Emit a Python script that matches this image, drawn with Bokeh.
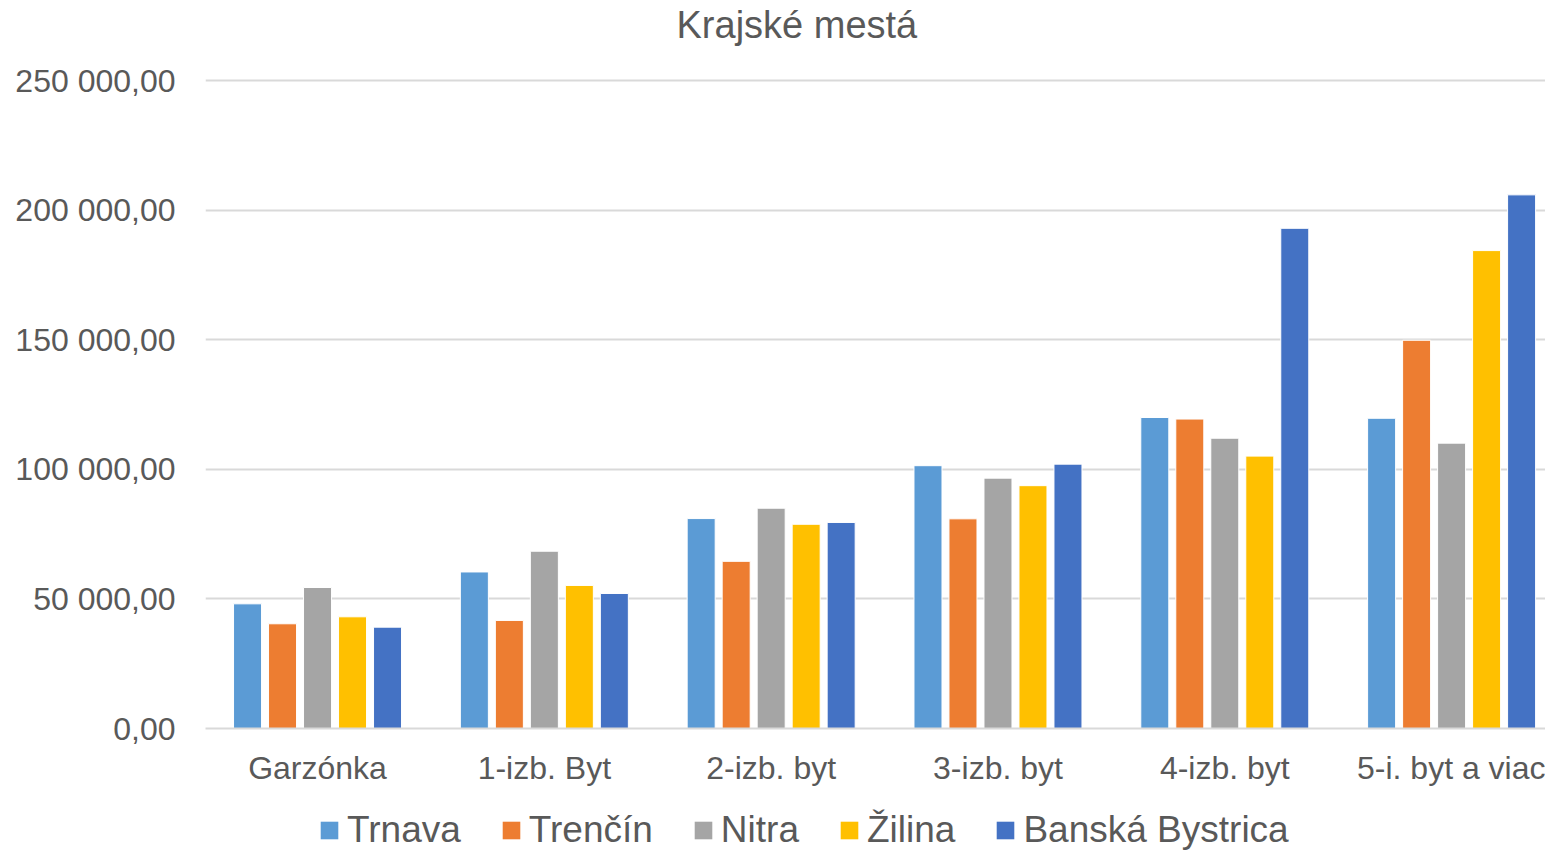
from bokeh.plotting import figure
from bokeh.layouts import column
from bokeh.models import Range1d, Legend, LegendItem, FixedTicker, ColumnDataSource, Label
from bokeh.embed import file_html
from bokeh.resources import INLINE

title_text = "Krajské mestá"
categories = ["Garzónka", "1-izb. Byt", "2-izb. byt", "3-izb. byt", "4-izb. byt", "5-i. byt a viac"]
series_names = ["Trnava", "Trenčín", "Nitra", "Žilina", "Banská Bystrica"]
trnava = [48100, 60400, 81000, 101400, 120000, 119700]
trencin = [40400, 41700, 64500, 80900, 119400, 149800]
nitra = [54400, 68400, 85000, 96600, 112000, 110100]
zilina = [43100, 55200, 78800, 93700, 105100, 184400]
banska_bystrica = [39100, 52100, 79500, 102000, 193000, 205900]
y_ticks = [0, 50000, 100000, 150000, 200000, 250000]
y_tick_labels = ["0,00", "50 000,00", "100 000,00", "150 000,00", "200 000,00", "250 000,00"]

colors = ["#5B9BD5", "#ED7D31", "#A5A5A5", "#FFC000", "#4472C4"]
text_color = "#595959"
grid_color = "#D9D9D9"
FONT = "Liberation Sans"


def strip(height):
    f = figure(width=1545, height=height, output_backend="svg", toolbar_location=None,
               x_range=Range1d(0, 1), y_range=Range1d(0, 1), x_axis_type=None, y_axis_type=None,
               min_border=0)
    f.outline_line_color = None
    f.xgrid.grid_line_color = None
    f.ygrid.grid_line_color = None
    return f


# title strip
tf = strip(52)
tf.add_layout(Label(x=471, y=28, x_units="screen", y_units="screen", text=title_text,
                    text_font=FONT, text_font_size="38px", text_color=text_color,
                    text_align="left", text_baseline="middle"))

# main chart: category i is centred at i + 0.5; the chart is cropped on the right like the original
cat_centers = [i + 0.5 for i in range(len(categories))]
step = 0.1543
bw = 0.1235
series = [trnava, trencin, nitra, zilina, banska_bystrica]

p = figure(x_range=Range1d(0.006, 5.914), y_range=Range1d(0, 250800),
           width=1545, height=748, output_backend="svg", toolbar_location=None,
           min_border_left=205, min_border_right=0, min_border_top=26, min_border_bottom=72)
p.outline_line_color = None
p.background_fill_color = "white"

renderers = []
for i, vals in enumerate(series):
    src = ColumnDataSource(dict(x=[c + (i - 2) * step for c in cat_centers], top=vals))
    r = p.vbar(x="x", top="top", width=bw, source=src,
               fill_color=colors[i], line_color="white", line_width=1)
    renderers.append(r)

p.yaxis.ticker = FixedTicker(ticks=y_ticks)
p.yaxis.major_label_overrides = {t: l for t, l in zip(y_ticks, y_tick_labels)}
p.yaxis.axis_line_color = None
p.yaxis.major_tick_line_color = None
p.yaxis.minor_tick_line_color = None
p.yaxis.major_tick_out = 0
p.yaxis.major_tick_in = 0
p.yaxis.major_label_text_font = FONT
p.yaxis.major_label_text_font_size = "32px"
p.yaxis.major_label_text_color = text_color
p.yaxis.major_label_standoff = 30

p.xaxis.ticker = FixedTicker(ticks=cat_centers, minor_ticks=[])
p.xaxis.major_label_overrides = {c: n for c, n in zip(cat_centers, categories)}
p.xaxis.axis_line_color = grid_color
p.xaxis.axis_line_width = 2
p.xaxis.major_tick_line_color = None
p.xaxis.minor_tick_line_color = None
p.xaxis.major_tick_out = 0
p.xaxis.major_tick_in = 0
p.xaxis.major_label_text_font = FONT
p.xaxis.major_label_text_font_size = "32px"
p.xaxis.major_label_text_color = text_color
p.xaxis.major_label_standoff = 21

p.xgrid.grid_line_color = None
p.ygrid.grid_line_color = grid_color
p.ygrid.grid_line_width = 2

# legend strip below the chart (hidden key glyphs only provide the swatches)
lg = strip(52)
key_renderers = [lg.vbar(x=[0.5], top=[0.5], width=0.01, fill_color=c, line_color=None, visible=False)
                 for c in colors]
legend = Legend(items=[LegendItem(label=n, renderers=[r]) for n, r in zip(series_names, key_renderers)],
                orientation="horizontal", location=(113, 1),
                label_text_font=FONT, label_text_font_size="37px", label_text_color=text_color,
                glyph_width=22, glyph_height=22, label_standoff=7, spacing=39,
                padding=0, margin=0, border_line_color=None, background_fill_alpha=0)
lg.add_layout(legend, "center")

layout = column(tf, p, lg, spacing=0)
open("out.html", "w").write(file_html(layout, INLINE))
